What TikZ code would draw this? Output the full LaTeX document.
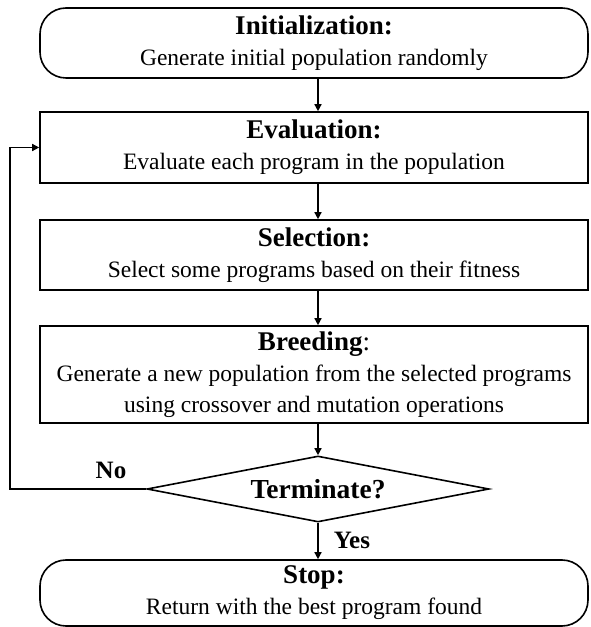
\documentclass[tikz,border=0pt]{standalone}
\usepackage{fontspec}
\setmainfont{Liberation Serif}
\usetikzlibrary{arrows.meta,positioning,shapes.geometric}
\newcommand{\steptitle}[1]{{\fontsize{27}{30}\selectfont\bfseries #1}}

\begin{document}
\begin{tikzpicture}[
  x=1pt, y=1pt,
  >={Triangle[length=7pt,width=7pt]},
  stepbox/.style={
    draw,
    line width=1.6pt,
    align=center,
    inner sep=0pt,
    font=\fontsize{23.5}{31}\selectfont,
    minimum width=548pt
  },
  terminal/.style={stepbox, rounded corners=26pt},
  decision/.style={
    draw,
    line width=1.6pt,
    diamond,
    aspect=5.2,
    inner sep=0pt,
    minimum width=342pt,
    minimum height=66pt,
    font=\fontsize{27.5}{30}\selectfont\bfseries
  },
  edge/.style={->, line width=1.4pt},
  label/.style={font=\fontsize{25}{28}\selectfont\bfseries}
]
  \useasboundingbox (0,0) rectangle (590,627);

  \node[terminal, minimum height=70pt] (init) at (314,584)
    {\steptitle{Initialization:}\\
     Generate initial population randomly};
  \node[stepbox, minimum height=71pt] (eval) at (314,479.5)
    {\steptitle{Evaluation:}\\
     Evaluate each program in the population};
  \node[stepbox, minimum height=70pt] (sel) at (314,372)
    {\steptitle{Selection:}\\
     Select some programs based on their fitness};
  \node[stepbox, minimum height=97pt] (breed) at (314,252.5)
    {\steptitle{Breeding}{\fontsize{27}{30}\selectfont:}\\
     Generate a new population from the selected programs\\
     using crossover and mutation operations};
  \node[decision] (term) at (318,138) {Terminate?};
  \node[terminal, minimum height=66pt] (stop) at (314,34)
    {\steptitle{Stop:}\\
     Return with the best program found};

  \node[label] (no) at (111,157) {No};
  \node[label] (yes) at (352,87) {Yes};
  \coordinate (back) at (10,138);

  \draw[edge] (init.south -| term.north) -- (eval.north -| term.north);
  \draw[edge] (eval.south -| term.north) -- (sel.north -| term.north);
  \draw[edge] (sel.south -| term.north) -- (breed.north -| term.north);
  \draw[edge] (breed.south -| term.north) -- (term.north);
  \draw[edge] (term.south) -- (stop.north -| term.south);
  \draw[edge] (term.west) -- (back) |- (eval.west);
\end{tikzpicture}
\end{document}
